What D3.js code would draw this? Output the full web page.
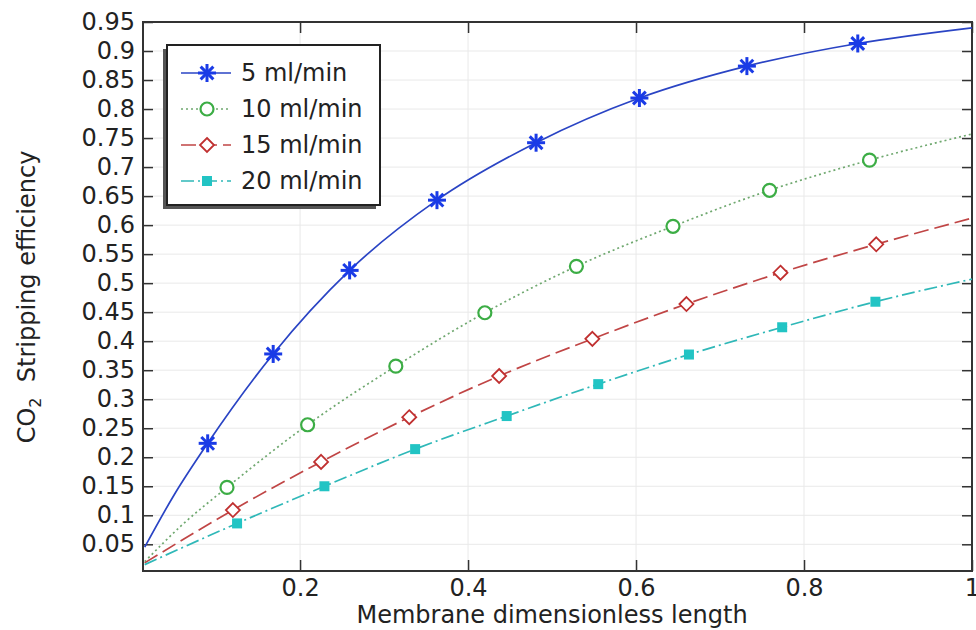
<!DOCTYPE html>
<meta charset="utf-8">
<style>
  body { margin: 0; background: #fff; }
  text { font-family: "DejaVu Sans", sans-serif; fill: #222; }
</style>
<svg width="976" height="630"></svg>
<script src="https://cdn.jsdelivr.net/npm/d3@7/dist/d3.min.js"></script>
<script>

// curves: [dimensionless length, stripping efficiency]
var flow5 = [[0.015,0.045],[0.05,0.135],[0.090,0.224],[0.168,0.378],[0.259,0.522],[0.363,0.643],
             [0.481,0.742],[0.604,0.819],[0.732,0.874],[0.864,0.913],[1.0,0.940]];
var flow10 = [[0.015,0.020],[0.06,0.084],[0.113,0.148],[0.209,0.256],[0.314,0.357],[0.420,0.449],
              [0.529,0.529],[0.644,0.598],[0.759,0.660],[0.878,0.712],[1.0,0.757]];
var flow15 = [[0.015,0.018],[0.120,0.109],[0.225,0.192],[0.330,0.269],[0.437,0.340],[0.548,0.404],
              [0.660,0.464],[0.772,0.518],[0.886,0.567],[1.0,0.612]];
var flow20 = [[0.015,0.015],[0.125,0.086],[0.229,0.150],[0.337,0.214],[0.446,0.271],[0.555,0.326],
              [0.663,0.377],[0.774,0.424],[0.885,0.468],[1.0,0.507]];

// marker positions along each curve
var mark5 = [[0.090,0.224],[0.168,0.378],[0.259,0.522],[0.363,0.643],[0.481,0.742],[0.604,0.819],[0.732,0.874],[0.864,0.913]];
var mark10 = [[0.113,0.148],[0.209,0.256],[0.314,0.357],[0.420,0.449],[0.529,0.529],[0.644,0.598],[0.759,0.660],[0.878,0.712]];
var mark15 = [[0.120,0.109],[0.225,0.192],[0.330,0.269],[0.437,0.340],[0.548,0.404],[0.660,0.464],[0.772,0.518],[0.886,0.567]];
var mark20 = [[0.125,0.086],[0.229,0.150],[0.337,0.214],[0.446,0.271],[0.555,0.326],[0.663,0.377],[0.774,0.424],[0.885,0.468]];

var labels = ["5 ml/min", "10 ml/min", "15 ml/min", "20 ml/min"];
var xTicks = [0.2, 0.4, 0.6, 0.8, 1];
var yTicks = d3.range(1, 20).map(function(i) { return i * 0.05; });

var svg = d3.select("svg"),
    margin = {top: 22, right: 4, bottom: 59, left: 143},
    width = +svg.attr("width") - margin.left - margin.right,
    height = +svg.attr("height") - margin.top - margin.bottom;

var x = d3.scaleLinear().domain([0.013, 1]).range([0, width]),
    y = d3.scaleLinear().domain([0.004, 0.95]).range([height, 0]);

var g = svg.append("g").attr("transform", "translate(" + margin.left + "," + margin.top + ")");

// grid
g.append("g").selectAll("line").data(yTicks).enter().append("line")
    .attr("x1", 0).attr("x2", width)
    .attr("y1", function(d) { return y(d); }).attr("y2", function(d) { return y(d); })
    .attr("stroke", "#e9e9e9").attr("stroke-width", 1);
g.append("g").selectAll("line").data(xTicks).enter().append("line")
    .attr("y1", 0).attr("y2", height)
    .attr("x1", function(d) { return x(d); }).attr("x2", function(d) { return x(d); })
    .attr("stroke", "#e9e9e9").attr("stroke-width", 1);

// axes, ticks pointing inward on all four sides
var fmt = function(d) { return d3.format(".2~f")(d); };
var yAxis = g.append("g").call(d3.axisLeft(y).tickValues(yTicks).tickFormat(fmt).tickSizeInner(-10).tickSizeOuter(0).tickPadding(8));
var yAxisR = g.append("g").attr("transform", "translate(" + width + ",0)")
    .call(d3.axisRight(y).tickValues(yTicks).tickFormat("").tickSizeInner(-10).tickSizeOuter(0));
var xAxis = g.append("g").attr("transform", "translate(0," + height + ")")
    .call(d3.axisBottom(x).tickValues(xTicks).tickFormat(d3.format("~g")).tickSizeInner(-11).tickSizeOuter(0).tickPadding(8));
var xAxisT = g.append("g")
    .call(d3.axisTop(x).tickValues(xTicks).tickFormat("").tickSizeInner(-11).tickSizeOuter(0));

[yAxis, yAxisR, xAxis, xAxisT].forEach(function(a) {
  a.select(".domain").remove();
  a.selectAll(".tick line").attr("stroke", "#333").attr("stroke-width", 1.5);
  a.selectAll("text").style("font-size", "24px").attr("fill", "#222");
});

g.append("rect").attr("width", width).attr("height", height)
    .attr("fill", "none").attr("stroke", "#333").attr("stroke-width", 2);

// series
var line = d3.line()
    .x(function(d) { return x(d[0]); })
    .y(function(d) { return y(d[1]); })
    .curve(d3.curveMonotoneX);

var styles = [
  {data: flow5, marks: mark5, color: "#2a44c4", mcolor: "#1a3be6", dash: null, sym: "star"},
  {data: flow10, marks: mark10, color: "#6fa86f", mcolor: "#3cad45", dash: "2,3", sym: "circle"},
  {data: flow15, marks: mark15, color: "#c04545", mcolor: "#c03030", dash: "15,6", sym: "diamond"},
  {data: flow20, marks: mark20, color: "#2fb8b8", mcolor: "#22c4c4", dash: "13,4,2,4", sym: "square"}
];

function drawMarker(sel, s) {
  if (s.sym === "star") {
    [0, 45, 90, 135].forEach(function(a) {
      sel.append("line").attr("x1", -9).attr("x2", 9).attr("y1", 0).attr("y2", 0)
        .attr("transform", "rotate(" + a + ")")
        .attr("stroke", s.mcolor).attr("stroke-width", 3);
    });
  } else if (s.sym === "circle") {
    sel.append("circle").attr("r", 6.5).attr("fill", "#fff")
      .attr("stroke", s.mcolor).attr("stroke-width", 2.2);
  } else if (s.sym === "diamond") {
    sel.append("path").attr("d", "M0,-7L7,0L0,7L-7,0Z").attr("fill", "#fff")
      .attr("stroke", s.mcolor).attr("stroke-width", 1.8);
  } else {
    sel.append("rect").attr("x", -5).attr("y", -5).attr("width", 10).attr("height", 10)
      .attr("fill", s.mcolor);
  }
}

var plot = g.append("g");
styles.forEach(function(s) {
  plot.append("path").datum(s.data).attr("d", line)
    .attr("fill", "none").attr("stroke", s.color).attr("stroke-width", 1.7)
    .attr("stroke-dasharray", s.dash);
  plot.append("g").selectAll("g").data(s.marks).enter().append("g")
    .attr("transform", function(d) { return "translate(" + x(d[0]) + "," + y(d[1]) + ")"; })
    .each(function() { drawMarker(d3.select(this), s); });
});

// legend
var leg = svg.append("g").attr("transform", "translate(167,45)");
leg.append("rect").attr("x", -4).attr("y", 4).attr("width", 213).attr("height", 160).attr("fill", "#555");
leg.append("rect").attr("width", 213).attr("height", 160).attr("fill", "#fff")
    .attr("stroke", "#222").attr("stroke-width", 2);
styles.forEach(function(s, i) {
  var row = leg.append("g").attr("transform", "translate(0," + (28 + i * 36) + ")");
  row.append("line").attr("x1", 14).attr("x2", 64).attr("stroke", s.color)
    .attr("stroke-width", 1.7).attr("stroke-dasharray", s.dash);
  drawMarker(row.append("g").attr("transform", "translate(40,0)"), s);
  row.append("text").attr("x", 74).attr("y", 8).style("font-size", "24px").text(labels[i]);
});

// axis titles
svg.append("text").attr("x", margin.left + x(0.5)).attr("y", 623)
    .attr("text-anchor", "middle").style("font-size", "24px")
    .text("Membrane dimensionless length");

var yt = svg.append("text").attr("transform", "translate(35,297) rotate(-90)")
    .attr("text-anchor", "middle").style("font-size", "24px");
yt.append("tspan").text("CO");
yt.append("tspan").attr("dy", 6).style("font-size", "16px").text("2");
yt.append("tspan").attr("dy", -6).text("\u00a0 Stripping efficiency");

</script>
